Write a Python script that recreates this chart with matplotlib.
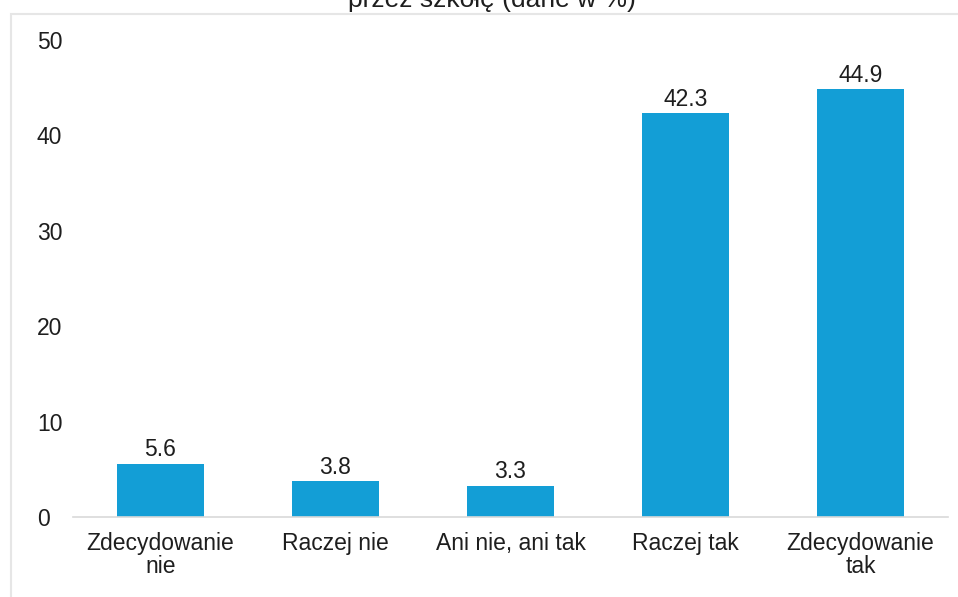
import matplotlib as mpl
mpl.use("Agg")
import matplotlib.pyplot as plt
from matplotlib.patches import Rectangle

mpl.rcParams.update({
    "font.family": "sans-serif",
    "font.sans-serif": ["Liberation Sans", "DejaVu Sans"],
})

categories = ["Zdecydowanie\nnie", "Raczej nie", "Ani nie, ani tak", "Raczej tak", "Zdecydowanie\ntak"]
values = [5.6, 3.8, 3.3, 42.3, 44.9]
yticks = [0, 10, 20, 30, 40, 50]
title = "przez szkołę (dane w %)"

BAR = "#139ED6"
TXT = "#1e1e1e"
GRID = "#d9d9d9"
W, H = 958, 597
FS = 16.5

fig = plt.figure(figsize=(W / 100, H / 100), dpi=100)
ax = fig.add_axes([73 / W, 80 / H, 875 / W, 477 / H])

x = range(len(categories))
ax.bar(x, values, width=0.5, color=BAR)
for xi, v in zip(x, values):
    ax.annotate(f"{v:.1f}", (xi, v), xytext=(0, 1.5), textcoords="offset points",
                ha="center", va="bottom", fontsize=FS, color=TXT)

ax.set_xlim(-0.5, len(categories) - 0.5)
ax.set_ylim(0, 50)
ax.set_yticks(yticks)
ax.set_yticklabels([str(t) for t in yticks], ha="left")
ax.set_xticks(list(x))
ax.set_xticklabels(categories, linespacing=1.0)
ax.tick_params(axis="y", length=0, pad=26, labelsize=FS, labelcolor=TXT)
ax.tick_params(axis="x", length=0, pad=11, labelsize=FS, labelcolor=TXT)
for s in ["top", "right", "left"]:
    ax.spines[s].set_visible(False)
ax.spines["bottom"].set_color(GRID)
ax.spines["bottom"].set_linewidth(1.2)

# outer frame of the original chart box (cropped)
fig.add_artist(Rectangle((11 / W, -0.1), 1.2, (H - 13.5) / H + 0.1,
                         transform=fig.transFigure, fill=False,
                         edgecolor="#e6e6e6", linewidth=1.5))
# title, cut off at the top edge like in the source
fig.text(492 / W, (H - 7) / H, title, ha="center", va="baseline",
         fontsize=19, color=TXT)

fig.savefig("out.png", dpi=100)
